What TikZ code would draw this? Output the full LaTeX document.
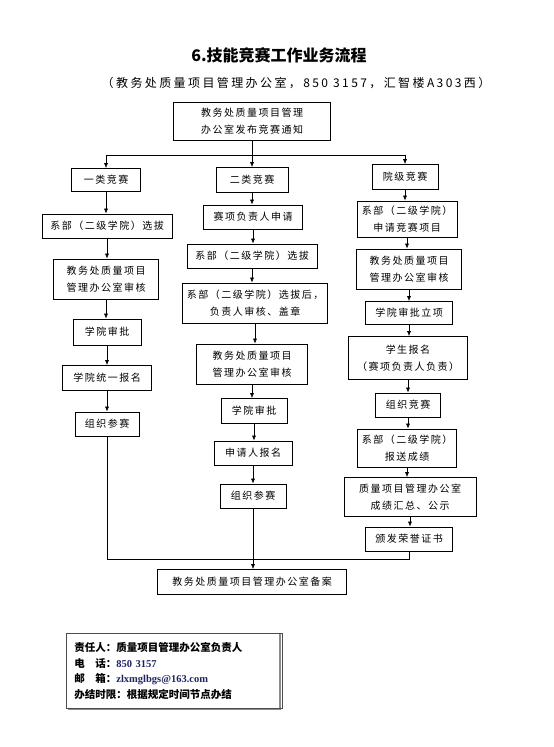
\documentclass[tikz,border=0pt]{standalone}
\usepackage{fontspec}
\setmainfont{Noto Sans CJK SC}
\newfontfamily\cjk[LetterSpace=15]{Noto Sans CJK SC}
\newfontfamily\cjkhead[LetterSpace=20]{Noto Sans CJK SC}
\newfontfamily\latinb{Liberation Serif}
\usepackage{tikz}
\usetikzlibrary{positioning, arrows.meta, calc}

\definecolor{infoblue}{RGB}{30,35,100}

\tikzset{
    box/.style={draw, line width=0.7pt, align=center, inner sep=0pt,
        font=\cjk\fontsize{10}{16.5}\selectfont},
    flow/.style={-{Latex[length=5pt,width=4pt]}, line width=0.6pt},
    link/.style={line width=0.6pt}
}

\begin{document}
\begin{tikzpicture}[x=1pt, y=-1pt]
    \useasboundingbox (0,0) rectangle (554,747);

    % Title and office line
    \node (title) at (279,55) {\bfseries\fontsize{16}{19}\selectfont 6.技能竞赛工作业务流程};
    \node (office) at (296,83) {\cjkhead\fontsize{12}{14}\selectfont （教务处质量项目管理办公室，850 3157，汇智楼A303西）};

    % Notice box on top
    \node[box, minimum width=157pt, minimum height=38pt] (notice) at (252,121) {教务处质量项目管理\\办公室发布竞赛通知};

    % First column
    \node[box, minimum width=69pt, minimum height=23pt] (c1a) at (106,180) {一类竞赛};
    \node[box, minimum width=130pt, minimum height=24pt] (c1b) at (107,226) {系部（二级学院）选拔};
    \node[box, minimum width=105pt, minimum height=40pt] (c1c) at (106,279) {教务处质量项目\\管理办公室审核};
    \node[box, minimum width=68pt, minimum height=26pt] (c1d) at (107,332) {学院审批};
    \node[box, minimum width=89pt, minimum height=25pt] (c1e) at (107,378) {学院统一报名};
    \node[box, minimum width=64pt, minimum height=24pt] (c1f) at (107,424) {组织参赛};

    % Second column
    \node[box, minimum width=72pt, minimum height=25pt] (c2a) at (252,180) {二类竞赛};
    \node[box, minimum width=99pt, minimum height=24pt] (c2b) at (253,217) {赛项负责人申请};
    \node[box, minimum width=130pt, minimum height=24pt] (c2c) at (252,256) {系部（二级学院）选拔};
    \node[box, minimum width=145pt, minimum height=40pt] (c2d) at (255,303) {系部（二级学院）选拔后，\\负责人审核、盖章};
    \node[box, minimum width=111pt, minimum height=40pt] (c2e) at (252,364) {教务处质量项目\\管理办公室审核};
    \node[box, minimum width=66pt, minimum height=25pt] (c2f) at (254,411) {学院审批};
    \node[box, minimum width=78pt, minimum height=24pt] (c2g) at (253,453) {申请人报名};
    \node[box, minimum width=66pt, minimum height=24pt] (c2h) at (253,496) {组织参赛};

    % Third column
    \node[box, minimum width=66pt, minimum height=25pt] (c3a) at (405,177) {院级竞赛};
    \node[box, minimum width=100pt, minimum height=36pt] (c3b) at (407,219) {系部（二级学院）\\申请竞赛项目};
    \node[box, minimum width=105pt, minimum height=40pt] (c3c) at (409,269) {教务处质量项目\\管理办公室审核};
    \node[box, minimum width=87pt, minimum height=23pt] (c3d) at (409,313) {学院审批立项};
    \node[box, minimum width=119pt, minimum height=43pt] (c3e) at (408,358) {学生报名\\（赛项负责人负责）};
    \node[box, minimum width=65pt, minimum height=24pt] (c3f) at (408,405) {组织竞赛};
    \node[box, minimum width=99pt, minimum height=38pt] (c3g) at (407,448) {系部（二级学院）\\报送成绩};
    \node[box, minimum width=132pt, minimum height=39pt] (c3h) at (410,497) {质量项目管理办公室\\成绩汇总、公示};
    \node[box, minimum width=87pt, minimum height=24pt] (c3i) at (409,539) {颁发荣誉证书};

    % Record box at the bottom
    \node[box, minimum width=189pt, minimum height=25pt] (record) at (252,582) {教务处质量项目管理办公室备案};

    % Fork below the notice
    \coordinate (fork) at (252,155);
    \draw[link] (notice.south) -- (fork);
    \draw[link] (c1a.north |- fork) -- (c3a.north |- fork);
    \draw[flow] (fork) -- (c2a.north);
    \draw[flow] (c1a.north |- fork) -- (c1a.north);
    \draw[flow] (c3a.north |- fork) -- (c3a.north);

    % Steps down each column
    \foreach \up/\down in {c1a/c1b, c1b/c1c, c1c/c1d, c1d/c1e, c1e/c1f,
        c2a/c2b, c2b/c2c, c2c/c2d, c2d/c2e, c2e/c2f, c2f/c2g, c2g/c2h,
        c3a/c3b, c3b/c3c, c3c/c3d, c3d/c3e, c3e/c3f, c3f/c3g, c3g/c3h, c3h/c3i}
        \draw[flow] (\up.south) -- (\up.south |- \down.north);

    % Merge into the record box
    \coordinate (merge) at (252,559);
    \draw[link] (c1f.south) -- (c1f.south |- merge) -- (c3i.south |- merge) -- (c3i.south);
    \draw[flow] (c2h.south) -- (c2h.south |- record.north);

    % Information box
    \draw[line width=1.6pt, black!45] (68,709) -- (280,709) -- (280,634);
    \node[draw=black!70, line width=0.7pt, minimum width=212pt, minimum height=75pt,
        text width=200pt, align=left, inner xsep=8pt, anchor=north west,
        font=\bfseries\fontsize{10.5}{15.5}\selectfont] (info) at (66,633)
        {责任人：质量项目管理办公室负责人\\
         电\hspace{1em}话：{\latinb\color{infoblue}850 3157}\\
         邮\hspace{1em}箱：{\latinb\color{infoblue}zlxmglbgs@163.com}\\
         办结时限：根据规定时间节点办结};
\end{tikzpicture}
\end{document}
